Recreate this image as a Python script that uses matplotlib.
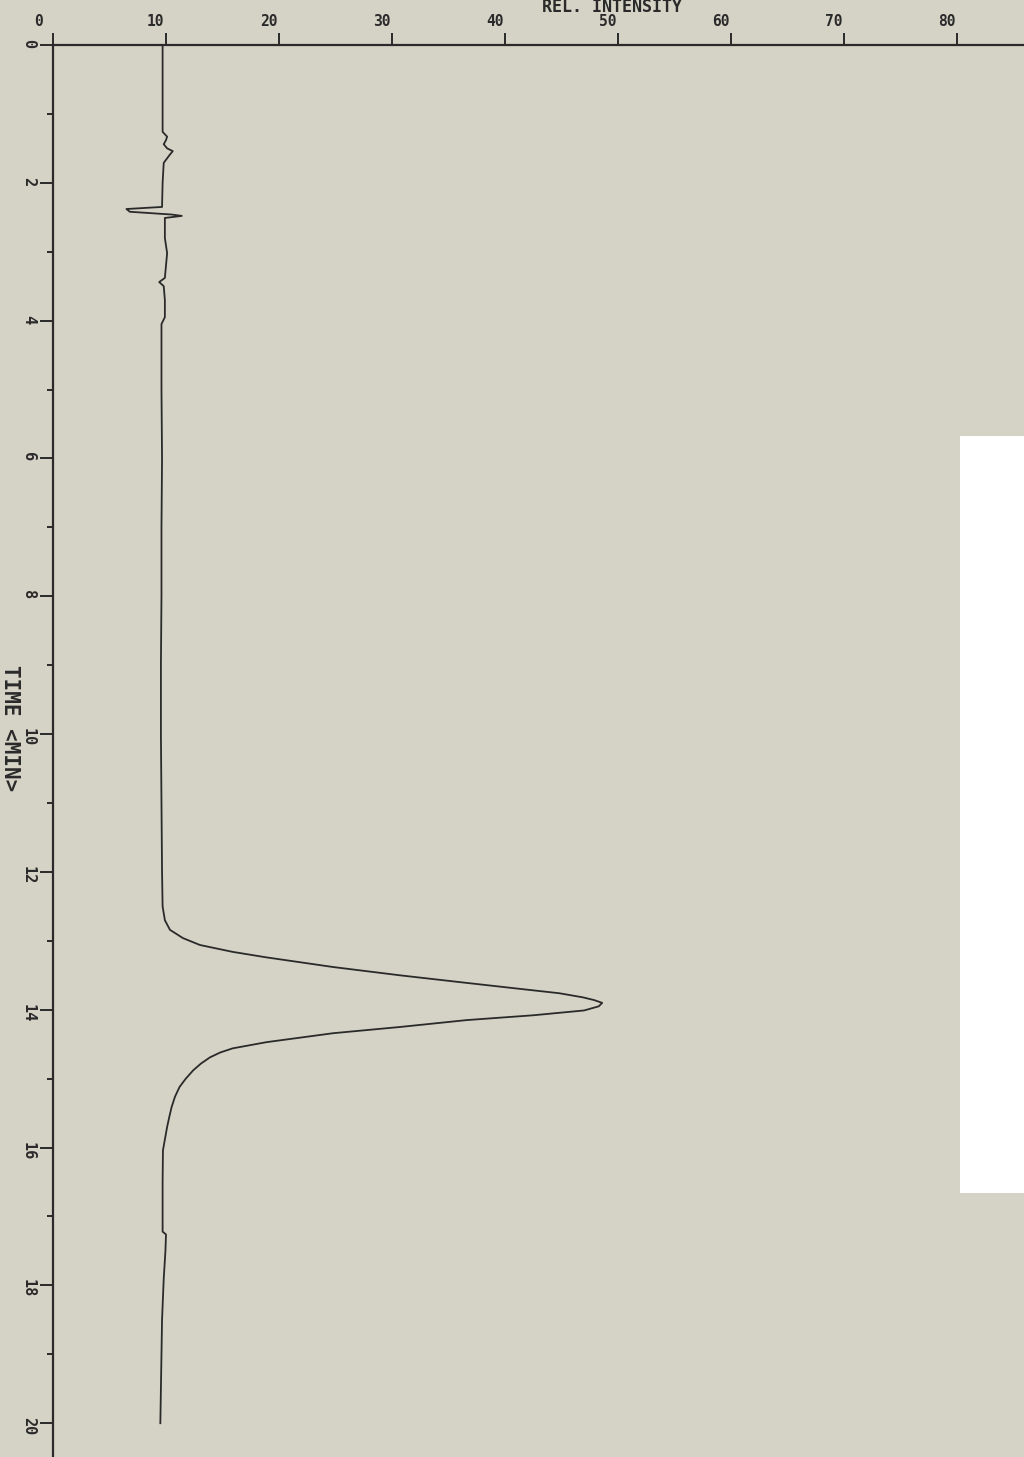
import matplotlib
matplotlib.use("Agg")
import matplotlib.pyplot as plt
import matplotlib.transforms as mtransforms
from matplotlib.patches import Rectangle

# ---- data ----
time_min = [0.00, 0.00, 0.50, 1.00, 1.26, 1.33, 1.38, 1.44, 1.50, 1.54,
            1.60, 1.71, 2.00, 2.35, 2.38, 2.42, 2.46, 2.48, 2.51, 2.60,
            2.80, 3.02, 3.20, 3.38, 3.44, 3.50, 3.70, 3.95, 4.05, 5.00,
            6.00, 7.00, 8.00, 9.00, 10.00, 11.00, 12.00, 12.50, 12.70, 12.84,
            12.96, 13.06, 13.16, 13.24, 13.38, 13.50, 13.61, 13.70, 13.76, 13.82,
            13.86, 13.90, 13.95, 14.01, 14.08, 14.15, 14.25, 14.34, 14.47, 14.56,
            14.62, 14.69, 14.78, 14.88, 15.00, 15.12, 15.26, 15.41, 15.55, 15.70,
            16.04, 16.50, 17.00, 17.22, 17.26, 17.50, 17.90, 18.50, 19.00, 19.50,
            20.00]
intensity = [0.0, 9.7, 9.7, 9.7, 9.7, 10.1, 10.0, 9.8, 10.1, 10.6,
             10.3, 9.8, 9.7, 9.65, 6.5, 6.8, 10.5, 11.4, 9.9, 9.9,
             9.9, 10.1, 10.0, 9.9, 9.4, 9.8, 9.9, 9.9, 9.6, 9.6,
             9.65, 9.6, 9.6, 9.55, 9.55, 9.6, 9.65, 9.7, 9.9, 10.35,
             11.5, 13.0, 15.9, 18.9, 24.8, 30.7, 36.6, 41.5, 44.8, 46.9,
             47.9, 48.6, 48.3, 47.0, 42.5, 36.6, 30.7, 24.8, 18.9, 15.9,
             14.8, 13.9, 13.1, 12.4, 11.75, 11.2, 10.8, 10.5, 10.3, 10.1,
             9.73, 9.7, 9.7, 9.7, 10.0, 9.95, 9.8, 9.65, 9.6, 9.55,
             9.5]

x_ticks = [0, 10, 20, 30, 40, 50, 60, 70, 80]
x_tick_labels = ["0", "10", "20", "30", "40", "50", "60", "70", "80"]
y_ticks = [0, 2, 4, 6, 8, 10, 12, 14, 16, 18, 20]
y_tick_labels = ["0", "2", "4", "6", "8", "10", "12", "14", "16", "18", "20"]
y_minor_ticks = [1, 3, 5, 7, 9, 11, 13, 15, 17, 19]

PAPER = "#d5d3c6"
INK = "#2a2a2a"

plt.rcParams["font.family"] = ["DejaVu Sans Mono"]
plt.rcParams["font.weight"] = "bold"

fig = plt.figure(figsize=(10.24, 14.57), dpi=100, facecolor=PAPER)
ax = fig.add_axes([0, 0, 1, 1])
ax.patch.set_alpha(0)

ax.plot(intensity, time_min, color=INK, lw=1.3)

ax.set_xlim(-4.69, 85.93)
ax.set_ylim(20.49, -0.653)

for s in ["right", "bottom"]:
    ax.spines[s].set_visible(False)
ax.spines["left"].set_position(("data", 0))
ax.spines["top"].set_position(("data", 0))
ax.spines["left"].set_bounds(0, 20.49)
ax.spines["top"].set_bounds(0, 85.93)
for s in ["left", "top"]:
    ax.spines[s].set_linewidth(1.6)
    ax.spines[s].set_color(INK)

ax.xaxis.set_ticks_position("top")
ax.set_xticks(x_ticks)
ax.set_xticklabels(x_tick_labels)
ax.tick_params(axis="x", direction="out", length=8.6, width=1.4, color=INK,
               pad=3.2, labelsize=10.5, labelcolor=INK)
off = mtransforms.ScaledTranslation(-19 / 100, 0, fig.dpi_scale_trans)
for lab in ax.get_xticklabels():
    lab.set_ha("left")
    lab.set_transform(lab.get_transform() + off)

ax.yaxis.set_ticks_position("left")
ax.set_yticks(y_ticks)
ax.set_yticklabels(y_tick_labels)
ax.set_yticks(y_minor_ticks, minor=True)
ax.tick_params(axis="y", which="major", direction="out", length=9.4, width=1.4,
               color=INK, pad=3, labelsize=11, labelcolor=INK, labelrotation=-90)
ax.tick_params(axis="y", which="minor", direction="out", length=4.5, width=1.4,
               color=INK)

fig.text(612 / 1024, 1 - 7 / 1457, "REL. INTENSITY", ha="center", va="center",
         fontsize=12, color=INK)
fig.text(10 / 1024, 1 - 728 / 1457, "TIME <MIN>", rotation=-90, ha="center",
         va="center", fontsize=15, color=INK)

fig.add_artist(Rectangle((960 / 1024, 1 - 1193 / 1457), 64 / 1024,
                         (1193 - 436) / 1457, transform=fig.transFigure,
                         facecolor="white", edgecolor="none", zorder=0.5))

fig.savefig("out.png", dpi=100, facecolor=PAPER)
